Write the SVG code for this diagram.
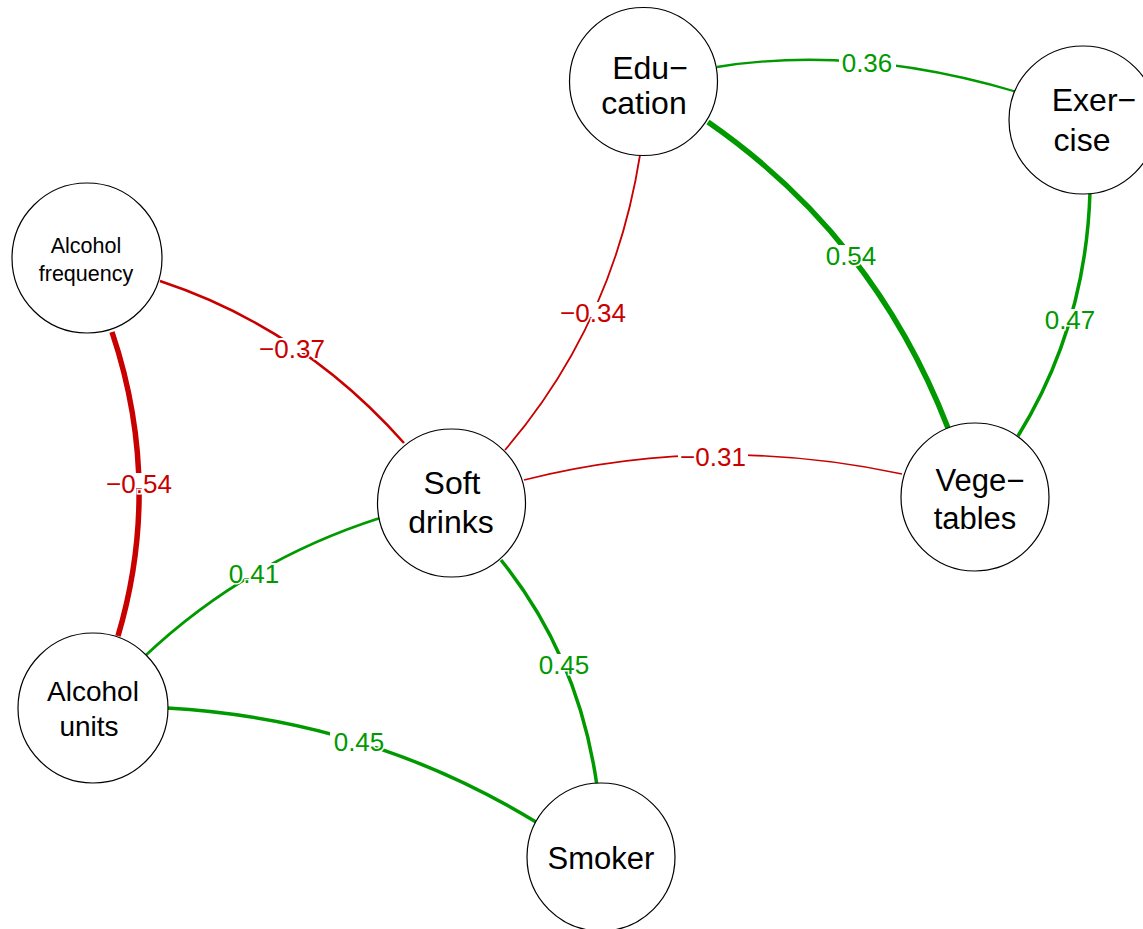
<svg xmlns="http://www.w3.org/2000/svg" width="1143" height="929" viewBox="0 0 1143 929">
  <style>
    .edge { fill: none; stroke-linecap: butt; }
    .pos { stroke: #009900; }
    .neg { stroke: #C80000; }
    .lbl { font-family: "Liberation Sans", Arial, sans-serif; font-size: 26px; text-anchor: middle; stroke: #ffffff; stroke-width: 3; paint-order: stroke; }
    .lpos { fill: #009900; }
    .lneg { fill: #C80000; }
    .bg { fill: #ffffff; }
    .node circle { fill: #ffffff; stroke: #000000; stroke-width: 1.2; }
    .node text { font-family: "Liberation Sans", Arial, sans-serif; text-anchor: middle; fill: #000000; }
  </style>
  <rect width="1143" height="929" fill="#ffffff"/>

  <!-- correlation edges -->
  <g id="edges">
    <path class="edge pos" stroke-width="2.3" d="M717,67 Q857,44.5 1017,92"/>
    <path class="edge pos" stroke-width="5.5" d="M708,122 Q874,237 948,428"/>
    <path class="edge pos" stroke-width="3.5" d="M1090,192 Q1086,326 1018,436"/>
    <path class="edge neg" stroke-width="1.8" d="M640,155 Q613.5,323.5 505,450"/>
    <path class="edge neg" stroke-width="2.5" d="M160,281 Q302,328 404,443"/>
    <path class="edge neg" stroke-width="1.6" d="M524,480 Q711,433 902,474"/>
    <path class="edge neg" stroke-width="5.5" d="M112,332 Q163,484 118,636"/>
    <path class="edge pos" stroke-width="2.8" d="M380,518 Q245.5,561 145,656"/>
    <path class="edge pos" stroke-width="3.5" d="M501,560 Q579,657 597,786"/>
    <path class="edge pos" stroke-width="3.5" d="M167,708 Q366.5,719 536,822"/>

    <!-- edge weights, each on a white backing strip -->
    <rect class="bg" x="839" y="52" width="57" height="15"/>
    <text class="lbl lpos" x="867" y="72">0.36</text>
    <rect class="bg" x="822" y="245" width="57" height="15"/>
    <text class="lbl lpos" x="851" y="265">0.54</text>
    <rect class="bg" x="1041" y="309" width="57" height="15"/>
    <text class="lbl lpos" x="1070" y="329">0.47</text>
    <rect class="bg" x="558" y="302" width="70" height="15"/>
    <text class="lbl lneg" x="593" y="322">−0.34</text>
    <rect class="bg" x="257" y="338" width="70" height="15"/>
    <text class="lbl lneg" x="292" y="358">−0.37</text>
    <rect class="bg" x="678" y="446" width="70" height="15"/>
    <text class="lbl lneg" x="713" y="466">−0.31</text>
    <rect class="bg" x="104" y="473" width="70" height="15"/>
    <text class="lbl lneg" x="139" y="493">−0.54</text>
    <rect class="bg" x="226" y="563" width="57" height="15"/>
    <text class="lbl lpos" x="254" y="583">0.41</text>
    <rect class="bg" x="536" y="654" width="57" height="15"/>
    <text class="lbl lpos" x="564" y="674">0.45</text>
    <rect class="bg" x="330" y="731" width="57" height="15"/>
    <text class="lbl lpos" x="359" y="751">0.45</text>
  </g>

  <g id="education" class="node">
    <circle cx="643.5" cy="81.5" r="74"/>
    <text x="650" y="79" font-size="32">Edu−</text>
    <text x="644" y="114" font-size="32">cation</text>
  </g>
  <g id="exercise" class="node">
    <circle cx="1083" cy="120" r="74"/>
    <text x="1094" y="111" font-size="32">Exer−</text>
    <text x="1082" y="151" font-size="32">cise</text>
  </g>
  <g id="alcohol-frequency" class="node">
    <circle cx="87" cy="258" r="75"/>
    <text x="86" y="253" font-size="21.5">Alcohol</text>
    <text x="86" y="281" font-size="21.5">frequency</text>
  </g>
  <g id="soft-drinks" class="node">
    <circle cx="451.5" cy="503" r="74"/>
    <text x="452" y="494" font-size="32">Soft</text>
    <text x="451" y="533" font-size="32">drinks</text>
  </g>
  <g id="vegetables" class="node">
    <circle cx="975" cy="497" r="74"/>
    <text x="980" y="491" font-size="31">Vege−</text>
    <text x="975" y="529" font-size="31">tables</text>
  </g>
  <g id="alcohol-units" class="node">
    <circle cx="93" cy="708" r="75"/>
    <text x="93" y="701" font-size="28">Alcohol</text>
    <text x="89" y="736" font-size="28">units</text>
  </g>
  <g id="smoker" class="node">
    <circle cx="601" cy="857" r="74"/>
    <text x="601" y="869" font-size="31">Smoker</text>
  </g>
</svg>
